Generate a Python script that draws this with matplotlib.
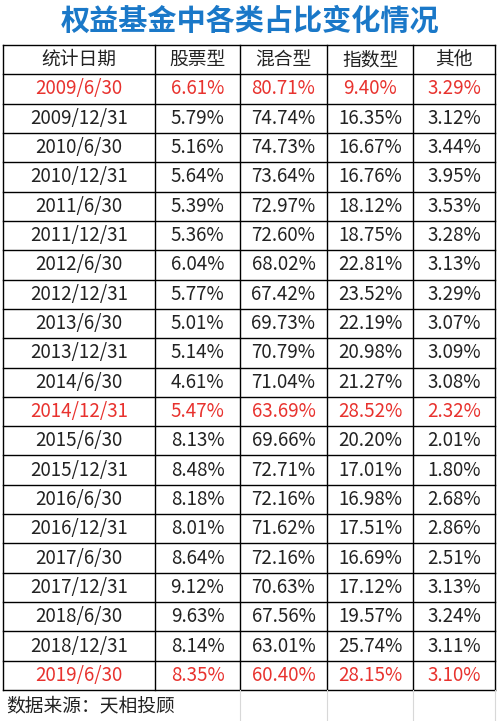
import matplotlib
matplotlib.use("Agg")
import matplotlib.pyplot as plt

plt.rcParams['font.family'] = ['Noto Sans CJK SC', 'DejaVu Sans']

title = "权益基金中各类占比变化情况"
headers = ["统计日期", "股票型", "混合型", "指数型", "其他"]
dates = ["2009/6/30", "2009/12/31", "2010/6/30", "2010/12/31", "2011/6/30",
         "2011/12/31", "2012/6/30", "2012/12/31", "2013/6/30", "2013/12/31",
         "2014/6/30", "2014/12/31", "2015/6/30", "2015/12/31", "2016/6/30",
         "2016/12/31", "2017/6/30", "2017/12/31", "2018/6/30", "2018/12/31",
         "2019/6/30"]
stock = ["6.61%", "5.79%", "5.16%", "5.64%", "5.39%", "5.36%", "6.04%", "5.77%",
         "5.01%", "5.14%", "4.61%", "5.47%", "8.13%", "8.48%", "8.18%", "8.01%",
         "8.64%", "9.12%", "9.63%", "8.14%", "8.35%"]
mixed = ["80.71%", "74.74%", "74.73%", "73.64%", "72.97%", "72.60%", "68.02%",
         "67.42%", "69.73%", "70.79%", "71.04%", "63.69%", "69.66%", "72.71%",
         "72.16%", "71.62%", "72.16%", "70.63%", "67.56%", "63.01%", "60.40%"]
index = ["9.40%", "16.35%", "16.67%", "16.76%", "18.12%", "18.75%", "22.81%",
         "23.52%", "22.19%", "20.98%", "21.27%", "28.52%", "20.20%", "17.01%",
         "16.98%", "17.51%", "16.69%", "17.12%", "19.57%", "25.74%", "28.15%"]
other = ["3.29%", "3.12%", "3.44%", "3.95%", "3.53%", "3.28%", "3.13%", "3.29%",
         "3.07%", "3.09%", "3.08%", "2.32%", "2.01%", "1.80%", "2.68%", "2.86%",
         "2.51%", "3.13%", "3.24%", "3.11%", "3.10%"]
highlight = {"2009/6/30", "2014/12/31", "2019/6/30"}
source = "数据来源：天相投顾"

fig = plt.figure(figsize=(5.0, 7.21), dpi=100)
ax = fig.add_axes([0, 0, 1, 1])
ax.set_xlim(0, 500)
ax.set_ylim(721, 0)
ax.axis("off")

cols = [3, 155, 240, 327, 413, 495]
top, rh = 45, 645 / 22
nrows = len(dates) + 1

ax.text(250, 21, title, ha="center", va="center", fontsize=21,
        fontweight="bold", color="#1a78c8")

rows = [headers] + [list(r) for r in zip(dates, stock, mixed, index, other)]
for i, row in enumerate(rows):
    yc = top + rh * (i + 0.5)
    color = "#e8322e" if row[0] in highlight else "#222222"
    for j, val in enumerate(row):
        ax.text((cols[j] + cols[j + 1]) / 2, yc, val, ha="center", va="center",
                fontsize=13.5, fontweight="light", color=color)

bottom = top + rh * nrows
for i in range(nrows + 1):
    ax.plot([cols[0], cols[-1]], [top + rh * i] * 2, color="black", lw=1)
for x in cols:
    ax.plot([x, x], [top, bottom], color="black", lw=1)
for x in cols[2:]:
    ax.plot([x, x], [bottom, 721], color="#d8d8d8", lw=0.8)

ax.text(6, bottom + 16, source, ha="left", va="center", fontsize=13.5,
        fontweight="light", color="#222222")

fig.savefig("out.png", dpi=100)
